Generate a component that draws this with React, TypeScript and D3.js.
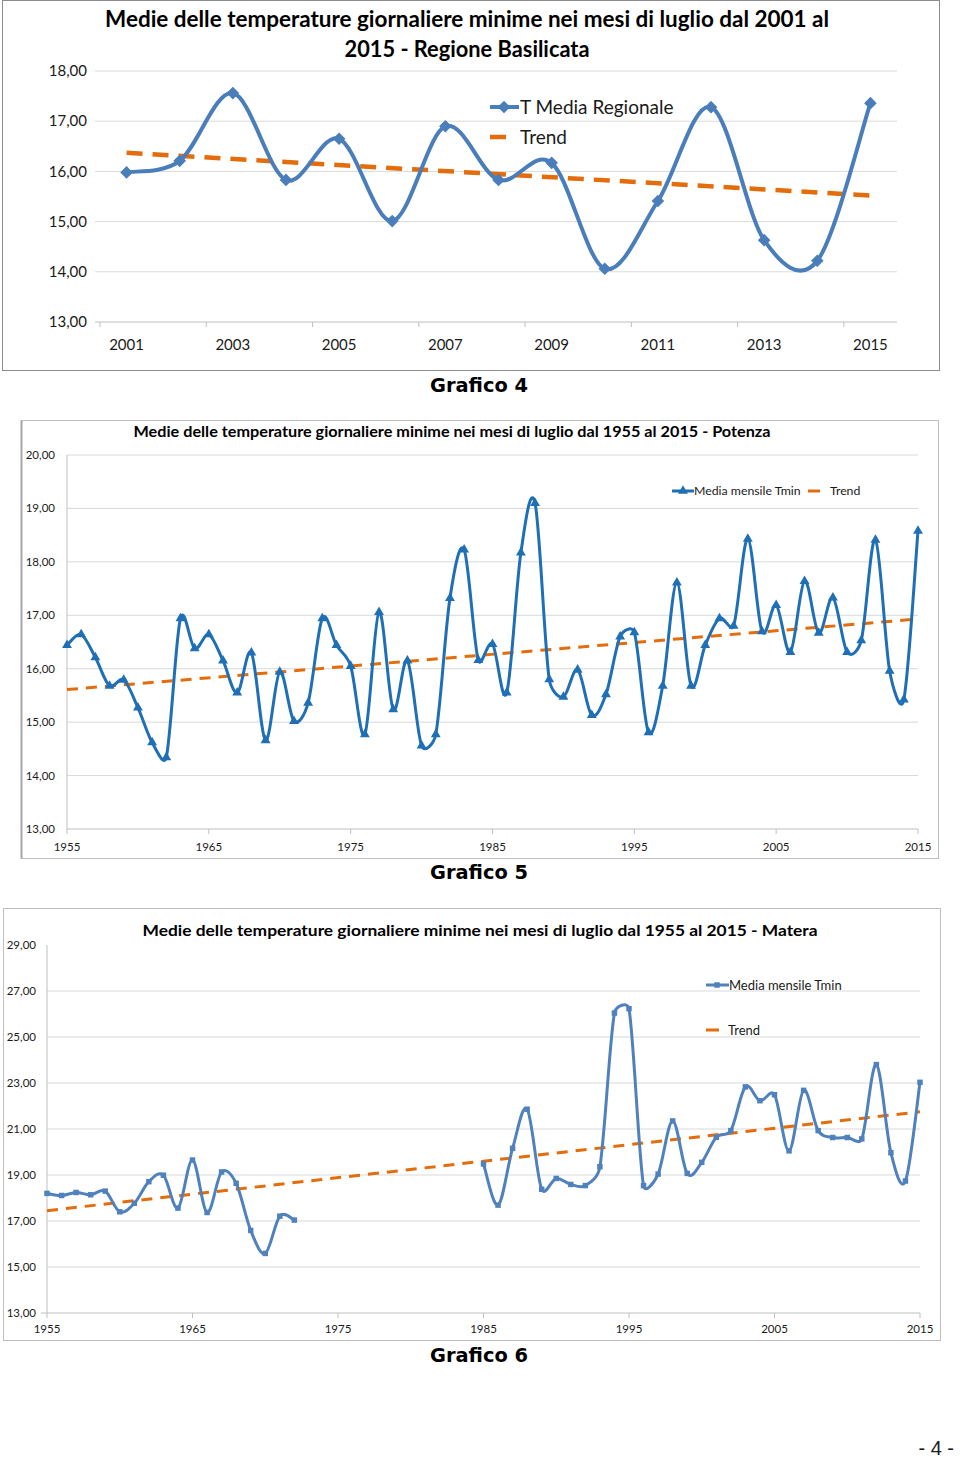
import React from 'react';
import * as d3 from 'd3';

// ---------- DATA ----------
const c1Years = [2001, 2002, 2003, 2004, 2005, 2006, 2007, 2008, 2009, 2010, 2011, 2012, 2013, 2014, 2015];
const c1Values = [15.98, 16.21, 17.56, 15.83, 16.65, 15.01, 16.9, 15.83, 16.17, 14.06, 15.41, 17.28, 14.63, 14.22, 17.36];
const c1Trend = [16.37, 15.52];
const c1YTicks = [13, 14, 15, 16, 17, 18];
const c1XLabels = [2001, 2003, 2005, 2007, 2009, 2011, 2013, 2015];

const longYears = d3.range(1955, 2016);
const c2Values = [
  16.44, 16.64, 16.21, 15.68, 15.79, 15.27, 14.62, 14.34, 16.94, 16.38,
  16.64, 16.15, 15.55, 16.3, 14.66, 15.94, 15.02, 15.36, 16.94, 16.44,
  16.05, 14.77, 17.06, 15.24, 16.15, 14.56, 14.77, 17.32, 18.23, 16.16,
  16.46, 15.55, 18.17, 19.1, 15.8, 15.47, 15.98, 15.13, 15.52, 16.6,
  16.68, 14.81, 15.68, 17.61, 15.68, 16.44, 16.94, 16.8, 18.43, 16.7,
  17.19, 16.31, 17.64, 16.67, 17.33, 16.31, 16.53, 18.41, 15.96, 15.42,
  18.58,
];
const c2Trend = [15.61, 16.93];
const c2YTicks = [13, 14, 15, 16, 17, 18, 19, 20];
const longXLabels = [1955, 1965, 1975, 1985, 1995, 2005, 2015];

const c3Values: (number | null)[] = [
  18.2, 18.11, 18.24, 18.14, 18.3, 17.4, 17.77, 18.71, 18.99, 17.56,
  19.65, 17.37, 19.13, 18.64, 16.59, 15.59, 17.21, 17.04,
  null, null, null, null, null, null, null, null, null, null, null, null,
  19.48, 17.69, 20.16, 21.86, 18.38, 18.85, 18.59, 18.54, 19.36, 26.04,
  26.23, 18.54, 19.04, 21.35, 19.07, 19.55, 20.64, 20.93, 22.83, 22.23,
  22.49, 20.05, 22.68, 20.93, 20.63, 20.63, 20.57, 23.8, 19.97, 18.74,
  23.03,
];
const c3Trend = [17.45, 21.75];
const c3YTicks = [13, 15, 17, 19, 21, 23, 25, 27, 29];

const fmt = (v: number) => v.toFixed(2).replace('.', ',');
const FONT = 'Lato, "Noto Sans", sans-serif';
const ORANGE = '#e46c0a';

// Spreadsheet-style smoothed line: Catmull-Rom Bezier (1/6 tangents),
// with control handles limited relative to the segment length.
function smoothCurve(context: any) {
  let pts: [number, number][] = [];
  const K = 0.5;
  return {
    areaStart() {},
    areaEnd() {},
    lineStart() {
      pts = [];
    },
    point(x: number, y: number) {
      pts.push([+x, +y]);
    },
    lineEnd() {
      const n = pts.length;
      if (!n) return;
      context.moveTo(pts[0][0], pts[0][1]);
      for (let i = 0; i < n - 1; i++) {
        const p0 = pts[Math.max(i - 1, 0)];
        const p1 = pts[i];
        const p2 = pts[i + 1];
        const p3 = pts[Math.min(i + 2, n - 1)];
        const lim = K * Math.hypot(p2[0] - p1[0], p2[1] - p1[1]);
        let ax = (p2[0] - p0[0]) / 6;
        let ay = (p2[1] - p0[1]) / 6;
        const la = Math.hypot(ax, ay);
        if (la > lim && la > 0) {
          ax *= lim / la;
          ay *= lim / la;
        }
        let bx = (p3[0] - p1[0]) / 6;
        let by = (p3[1] - p1[1]) / 6;
        const lb = Math.hypot(bx, by);
        if (lb > lim && lb > 0) {
          bx *= lim / lb;
          by *= lim / lb;
        }
        context.bezierCurveTo(p1[0] + ax, p1[1] + ay, p2[0] - bx, p2[1] - by, p2[0], p2[1]);
      }
    },
  };
}

// ---------- CHART 1 ----------
function Chart1() {
  const x = d3.scaleBand<number>().domain(c1Years).range([100, 897]).padding(0);
  const cx = (yr: number) => (x(yr) as number) + x.bandwidth() / 2;
  const y = d3.scaleLinear().domain([13, 18]).range([322, 71]);
  const color = '#4a7ebb';
  const line = d3
    .line<number>()
    .x((_, i) => cx(c1Years[i]))
    .y((d) => y(d))
    .curve(smoothCurve as any);
  const trendPts: [number, number][] = [
    [cx(c1Years[0]), y(c1Trend[0])],
    [cx(c1Years[c1Years.length - 1]), y(c1Trend[1])],
  ];
  const diamond = d3.symbol().type(d3.symbolSquare).size(80)() as string;
  const tickXs = d3.range(0, c1Years.length + 1, 2).map((k) => 100 + k * x.bandwidth());
  return (
    <g>
      <rect x={2.5} y={0.5} width={937} height={370} fill="#fff" stroke="#8c8c8c" />
      <text x={467} y={27} textAnchor="middle" fontFamily={FONT} fontWeight="bold" fontSize={22} textLength={724} lengthAdjust="spacingAndGlyphs">
        Medie delle temperature giornaliere minime nei mesi di luglio dal 2001 al
      </text>
      <text x={467} y={57} textAnchor="middle" fontFamily={FONT} fontWeight="bold" fontSize={22} textLength={245} lengthAdjust="spacingAndGlyphs">
        2015 - Regione Basilicata
      </text>
      {c1YTicks.map((t) => (
        <g key={t}>
          <line x1={95} x2={897} y1={y(t)} y2={y(t)} stroke={t === 13 ? '#bfbfbf' : '#d9d9d9'} strokeWidth={1} />
          <text x={87} y={y(t)} dy="0.35em" textAnchor="end" fontFamily={FONT} fontSize={15} fill="#1a1a1a">
            {fmt(t)}
          </text>
        </g>
      ))}
      {tickXs.map((tx) => (
        <line key={tx} x1={tx} x2={tx} y1={322} y2={327} stroke="#bfbfbf" />
      ))}
      {c1XLabels.map((yr) => (
        <text key={yr} x={cx(yr)} y={350} textAnchor="middle" fontFamily={FONT} fontSize={15} fill="#1a1a1a">
          {yr}
        </text>
      ))}
      <line x1={trendPts[0][0]} y1={trendPts[0][1]} x2={trendPts[1][0]} y2={trendPts[1][1]} stroke={ORANGE} strokeWidth={4.5} strokeDasharray="16 10" />
      <path d={line(c1Values) as string} fill="none" stroke={color} strokeWidth={4} />
      {c1Values.map((v, i) => (
        <path key={i} d={diamond} transform={`translate(${cx(c1Years[i])},${y(v)}) rotate(45)`} fill={color} />
      ))}
      {/* legend */}
      <line x1={490} x2={519} y1={107} y2={107} stroke={color} strokeWidth={4} />
      <path d={diamond} transform="translate(504,107) rotate(45)" fill={color} />
      <text x={520} y={114} fontFamily={FONT} fontSize={19} fill="#1a1a1a">T Media Regionale</text>
      <line x1={490} x2={506} y1={137} y2={137} stroke={ORANGE} strokeWidth={4.5} />
      <text x={520} y={144} fontFamily={FONT} fontSize={19} fill="#1a1a1a">Trend</text>
    </g>
  );
}

// ---------- CHART 2 ----------
function Chart2() {
  const x = d3.scaleLinear().domain([1955, 2015]).range([67, 918]);
  const y = d3.scaleLinear().domain([13, 20]).range([829, 455]);
  const color = '#1f6fb6';
  const line = d3
    .line<number>()
    .x((_, i) => x(longYears[i]))
    .y((d) => y(d))
    .curve(smoothCurve as any);
  const tri = d3.symbol().type(d3.symbolTriangle).size(42)() as string;
  return (
    <g>
      <rect x={21.5} y={420.5} width={917} height={438} fill="#fff" stroke="#bfbfbf" />
      <line x1={21.5} x2={21.5} y1={420.5} y2={858.5} stroke="#a6a6a6" strokeWidth={2} />
      <text x={452} y={437} textAnchor="middle" fontFamily={FONT} fontWeight="bold" fontSize={14.5} textLength={637} lengthAdjust="spacingAndGlyphs">
        Medie delle temperature giornaliere minime nei mesi di luglio dal 1955 al 2015 - Potenza
      </text>
      {c2YTicks.map((t) => (
        <g key={t}>
          <line x1={67} x2={918} y1={y(t)} y2={y(t)} stroke={t === 13 ? '#bfbfbf' : '#d9d9d9'} />
          <text x={55} y={y(t)} dy="0.35em" textAnchor="end" fontFamily={FONT} fontSize={11.5} fill="#1a1a1a">
            {fmt(t)}
          </text>
        </g>
      ))}
      <line x1={67} x2={67} y1={455} y2={829} stroke="#bfbfbf" />
      {longXLabels.map((yr) => (
        <g key={yr}>
          <line x1={x(yr)} x2={x(yr)} y1={829} y2={834} stroke="#bfbfbf" />
          <text x={x(yr)} y={851} textAnchor="middle" fontFamily={FONT} fontSize={11.5} fill="#1a1a1a">
            {yr}
          </text>
        </g>
      ))}
      <line x1={x(1955)} y1={y(c2Trend[0])} x2={x(2015)} y2={y(c2Trend[1])} stroke={ORANGE} strokeWidth={3} strokeDasharray="11 8" />
      <path d={line(c2Values) as string} fill="none" stroke={color} strokeWidth={3} />
      {c2Values.map((v, i) => (
        <path key={i} d={tri} transform={`translate(${x(longYears[i])},${y(v)})`} fill={color} />
      ))}
      {/* legend */}
      <line x1={672} x2={694} y1={491} y2={491} stroke={color} strokeWidth={3} />
      <path d={tri} transform="translate(683,491)" fill={color} />
      <text x={694} y={495} fontFamily={FONT} fontSize={12.3} fill="#1a1a1a">Media mensile Tmin</text>
      <line x1={808} x2={820} y1={491} y2={491} stroke={ORANGE} strokeWidth={3} />
      <text x={830} y={495} fontFamily={FONT} fontSize={12.3} fill="#1a1a1a">Trend</text>
    </g>
  );
}

// ---------- CHART 3 ----------
function Chart3() {
  const x = d3.scaleLinear().domain([1955, 2015]).range([47, 920]);
  const y = d3.scaleLinear().domain([13, 29]).range([1313, 945]);
  const color = '#4f81bd';
  const line = d3
    .line<number | null>()
    .defined((d) => d !== null)
    .x((_, i) => x(longYears[i]))
    .y((d) => y(d as number))
    .curve(smoothCurve as any);
  const sq = d3.symbol().type(d3.symbolSquare).size(30)() as string;
  return (
    <g>
      <rect x={3.5} y={908.5} width={937} height={432} fill="#fff" stroke="#bfbfbf" />
      <text x={480} y={936} textAnchor="middle" fontFamily={FONT} fontWeight="bold" fontSize={15.5} textLength={675} lengthAdjust="spacingAndGlyphs">
        Medie delle temperature giornaliere minime nei mesi di luglio dal 1955 al 2015 - Matera
      </text>
      {c3YTicks.map((t) => (
        <g key={t}>
          {t > 13 && t < 29 && <line x1={47} x2={920} y1={y(t)} y2={y(t)} stroke="#d9d9d9" />}
          <text x={36} y={y(t)} dy="0.35em" textAnchor="end" fontFamily={FONT} fontSize={11.5} fill="#1a1a1a">
            {fmt(t)}
          </text>
        </g>
      ))}
      <line x1={41} x2={920} y1={1313} y2={1313} stroke="#bfbfbf" />
      <line x1={47} x2={47} y1={945} y2={1313} stroke="#bfbfbf" />
      {longXLabels.map((yr) => (
        <g key={yr}>
          <line x1={x(yr)} x2={x(yr)} y1={1313} y2={1318} stroke="#bfbfbf" />
          <text x={x(yr)} y={1333} textAnchor="middle" fontFamily={FONT} fontSize={11.5} fill="#1a1a1a">
            {yr}
          </text>
        </g>
      ))}
      <line x1={x(1955)} y1={y(c3Trend[0])} x2={x(2015)} y2={y(c3Trend[1])} stroke={ORANGE} strokeWidth={3} strokeDasharray="11 8" />
      <path d={line(c3Values) as string} fill="none" stroke={color} strokeWidth={3} />
      {c3Values.map((v, i) =>
        v === null ? null : (
          <path key={i} d={sq} transform={`translate(${x(longYears[i])},${y(v)})`} fill={color} />
        )
      )}
      {/* legend */}
      <line x1={706} x2={729} y1={985} y2={985} stroke={color} strokeWidth={3} />
      <path d={sq} transform="translate(717,985)" fill={color} />
      <text x={729} y={990} fontFamily={FONT} fontSize={13} fill="#1a1a1a">Media mensile Tmin</text>
      <line x1={706} x2={719} y1={1030} y2={1030} stroke={ORANGE} strokeWidth={3} />
      <text x={728} y={1035} fontFamily={FONT} fontSize={13} fill="#1a1a1a">Trend</text>
    </g>
  );
}

export default function App() {
  return (
    <svg
      width={960}
      height={1459}
      viewBox="0 0 960 1459"
      style={{ position: 'absolute', left: 0, top: 0, background: '#fff' }}
    >
      <rect width={960} height={1459} fill="#fff" />
      <Chart1 />
      <text x={479} y={392} textAnchor="middle" fontFamily='"DejaVu Sans", Verdana, sans-serif' fontWeight="bold" fontSize={20} textLength={98} lengthAdjust="spacingAndGlyphs">
        Grafico 4
      </text>
      <Chart2 />
      <text x={479} y={879} textAnchor="middle" fontFamily='"DejaVu Sans", Verdana, sans-serif' fontWeight="bold" fontSize={20} textLength={98} lengthAdjust="spacingAndGlyphs">
        Grafico 5
      </text>
      <Chart3 />
      <text x={479} y={1362} textAnchor="middle" fontFamily='"DejaVu Sans", Verdana, sans-serif' fontWeight="bold" fontSize={20} textLength={98} lengthAdjust="spacingAndGlyphs">
        Grafico 6
      </text>
      <text x={954} y={1455} textAnchor="end" fontFamily='"Liberation Sans Narrow", "Liberation Sans", sans-serif' fontSize={20} fill="#1a1a1a">
        - 4 -
      </text>
    </svg>
  );
}
